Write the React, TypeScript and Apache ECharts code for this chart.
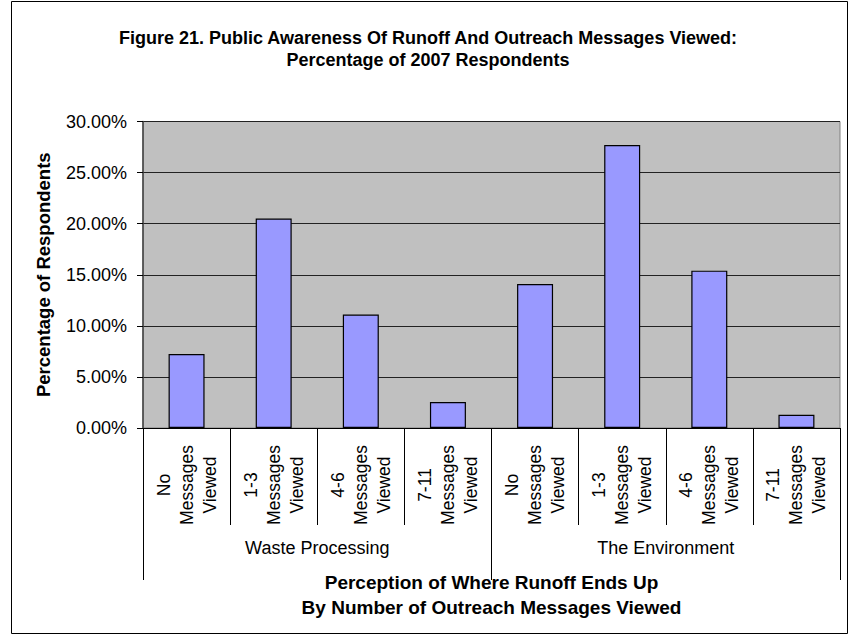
import React, { useEffect, useRef } from "react";
import * as echarts from "echarts";

const categories = [
  "No\nMessages\nViewed",
  "1-3\nMessages\nViewed",
  "4-6\nMessages\nViewed",
  "7-11\nMessages\nViewed",
  "No\nMessages\nViewed",
  "1-3\nMessages\nViewed",
  "4-6\nMessages\nViewed",
  "7-11\nMessages\nViewed",
];
const groups = ["Waste Processing", "The Environment"];
const percentValues = [7.25, 20.5, 11.1, 2.55, 14.1, 27.7, 15.4, 1.3];
const yMin = 0;
const yMax = 30;
const yInterval = 5;

const titleText = "Figure 21. Public Awareness Of Runoff And Outreach Messages Viewed:\nPercentage of 2007 Respondents";
const xTitle = "Perception of Where Runoff Ends Up\nBy Number of Outreach Messages Viewed";
const yTitle = "Percentage of Respondents";

const FONT = "'Liberation Sans', Arial, sans-serif";

export default function App() {
  const ref = useRef<HTMLDivElement>(null);
  useEffect(() => {
    if (!ref.current) return;
    const chart = echarts.init(ref.current, undefined, { renderer: "svg" });
    chart.setOption({
      animation: false,
      backgroundColor: "#ffffff",
      textStyle: { fontFamily: FONT },
      title: {
        text: titleText,
        left: "center",
        top: 22,
        textStyle: {
          fontFamily: FONT,
          fontSize: 18,
          fontWeight: "bold",
          lineHeight: 22,
          color: "#000",
        },
      },
      graphic: [
        {
          type: "rect",
          shape: { x: 11.5, y: 1.5, width: 836, height: 632 },
          style: { fill: "none", stroke: "#000", lineWidth: 1 },
          silent: true,
          z: -1,
        },
      ],
      grid: {
        left: 143,
        right: 16,
        top: 121.5,
        bottom: 208,
        show: true,
        backgroundColor: "#C0C0C0",
        borderColor: "#808080",
        borderWidth: 1,
      },
      xAxis: [
        {
          type: "category",
          data: categories,
          position: "bottom",
          axisLine: { show: true, lineStyle: { color: "#000", width: 1 } },
          axisTick: { show: true, length: 97, lineStyle: { color: "#000" } },
          axisLabel: {
            interval: 0,
            rotate: 90,
            align: "center",
            verticalAlign: "middle",
            margin: 57,
            fontFamily: FONT,
            fontSize: 17.5,
            lineHeight: 23,
            color: "#000",
          },
        },
        {
          type: "category",
          data: groups,
          position: "bottom",
          offset: 97,
          axisLine: { show: false },
          axisTick: { show: true, length: 55, lineStyle: { color: "#000" } },
          axisLabel: {
            interval: 0,
            margin: 14,
            fontFamily: FONT,
            fontSize: 18,
            color: "#000",
          },
          name: xTitle,
          nameLocation: "middle",
          nameGap: 45,
          nameTextStyle: {
            fontFamily: FONT,
            fontSize: 19,
            fontWeight: "bold",
            lineHeight: 25,
            color: "#000",
          },
        },
      ],
      yAxis: {
        type: "value",
        min: yMin,
        max: yMax,
        interval: yInterval,
        axisLine: { show: true, lineStyle: { color: "#404040", width: 1.5 } },
        axisTick: { show: true, length: 6, lineStyle: { color: "#000" } },
        splitLine: { show: true, lineStyle: { color: "#222", width: 1 } },
        axisLabel: {
          margin: 16,
          fontFamily: FONT,
          fontSize: 18,
          color: "#000",
          formatter: (v: number) => v.toFixed(2) + "%",
        },
        name: yTitle,
        nameLocation: "middle",
        nameGap: 90,
        nameTextStyle: {
          fontFamily: FONT,
          fontSize: 18.5,
          fontWeight: "bold",
          color: "#000",
        },
      },
      series: [
        {
          type: "bar",
          data: percentValues,
          xAxisIndex: 0,
          barWidth: 36,
          itemStyle: { color: "#9999FF", borderColor: "#000", borderWidth: 1.2 },
        },
      ],
    });
    return () => chart.dispose();
  }, []);
  return (
    <div
      ref={ref}
      style={{ position: "absolute", left: 0, top: 0, width: 856, height: 636 }}
    />
  );
}
